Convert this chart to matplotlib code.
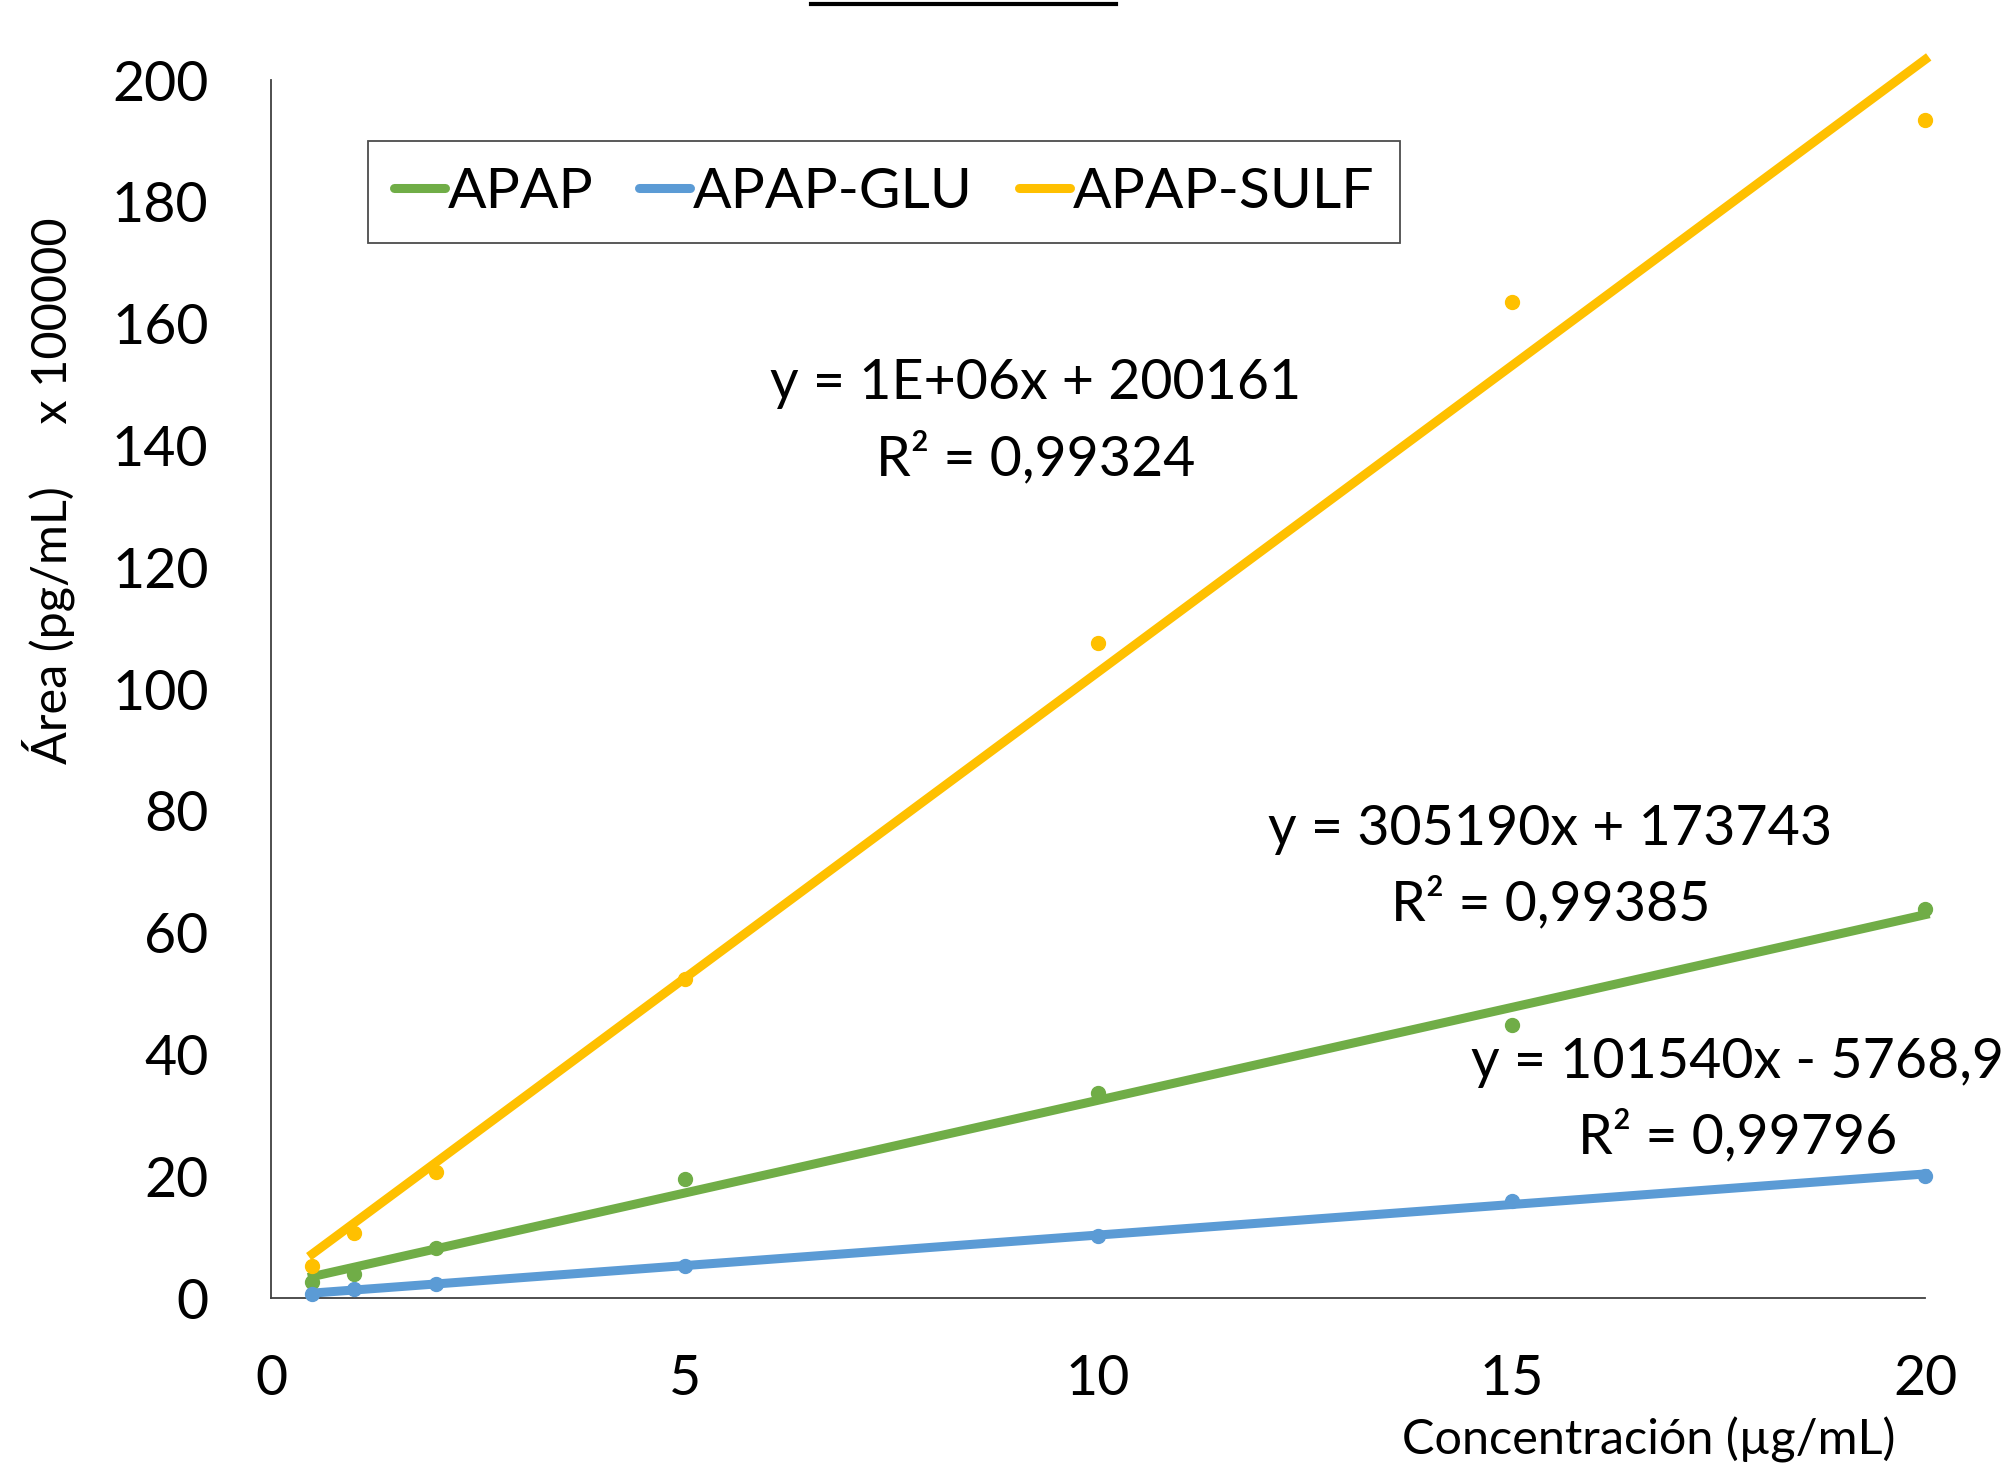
import matplotlib.pyplot as plt
import numpy as np
from matplotlib.lines import Line2D

# concentraciones (ug/mL)
conc = [0.5, 1, 2, 5, 10, 15, 20]

# areas x 100000
apap = [2.7, 4.0, 8.2, 19.6, 33.7, 44.9, 63.9]
apap_glu = [0.6, 1.5, 2.3, 5.3, 10.1, 16.0, 20.0]
apap_sulf = [5.3, 10.7, 20.7, 52.3, 107.5, 163.5, 193.5]

series_names = ['APAP', 'APAP-GLU', 'APAP-SULF']
colors = ['#70AD47', '#5B9BD5', '#FFC000']

eq_texts = [
    'y = 305190x + 173743\nR² = 0,99385',
    'y = 101540x - 5768,9\nR² = 0,99796',
    'y = 1E+06x + 200161\nR² = 0,99324',
]

plt.rcParams['font.family'] = ['Lato', 'DejaVu Sans']

fig = plt.figure(figsize=(20.12, 14.68), dpi=100)
ax = fig.add_axes([0.1347, 0.1158, 0.8221, 0.8297])

handles = []
for vals, name, col in zip([apap, apap_glu, apap_sulf], series_names, colors):
    x = np.array(conc)
    y = np.array(vals)
    m, b = np.polyfit(x, y, 1)
    ax.plot(x, y, 'o', color=col, markersize=10, zorder=3, clip_on=False)
    ax.plot([x.min(), x.max()], [m * x.min() + b, m * x.max() + b],
            color=col, linewidth=6.5, zorder=2, clip_on=False)
    handles.append(Line2D([0], [0], color=col, linewidth=6.5,
                          solid_capstyle='round'))

ax.set_xlim(0, 20)
ax.set_ylim(0, 200)
ax.set_xticks(range(0, 21, 5))
ax.set_yticks(range(0, 201, 20))
ax.tick_params(axis='both', length=0, labelsize=40)
ax.tick_params(axis='y', pad=45)
ax.tick_params(axis='x', pad=40)

for side in ['top', 'right']:
    ax.spines[side].set_visible(False)
for side in ['left', 'bottom']:
    ax.spines[side].set_color('#404040')
    ax.spines[side].set_linewidth(1.3)

# ecuaciones de las rectas
ax.text(15.47, 70.8, eq_texts[0], fontsize=40,
        ha='center', va='center', linespacing=1.5)
ax.text(17.73, 32.5, eq_texts[1], fontsize=40,
        ha='center', va='center', linespacing=1.5)
ax.text(9.24, 143.9, eq_texts[2], fontsize=40,
        ha='center', va='center', linespacing=1.5)

leg = ax.legend(handles, series_names, loc='upper left',
                bbox_to_anchor=(0.0587, 0.950), ncol=3, fontsize=41,
                frameon=True, fancybox=False, borderaxespad=0,
                handlelength=0.9, handletextpad=0.05, columnspacing=0.8,
                borderpad=0.45)
leg.get_frame().set_edgecolor('#202020')
leg.get_frame().set_linewidth(1.3)

fig.text(0.024, 0.666, 'Área (pg/mL)     x 100000', rotation=90,
         fontsize=35, ha='center', va='center')
fig.text(0.942, 0.019, 'Concentración (µg/mL)', fontsize=35,
         ha='right', va='center')

# linea superior (resto del titulo)
fig.add_artist(Line2D([811 / 2012, 1116 / 2012], [1 - 4 / 1468, 1 - 4 / 1468],
                      color='black', linewidth=3))

fig.savefig('out.png', dpi=100)
